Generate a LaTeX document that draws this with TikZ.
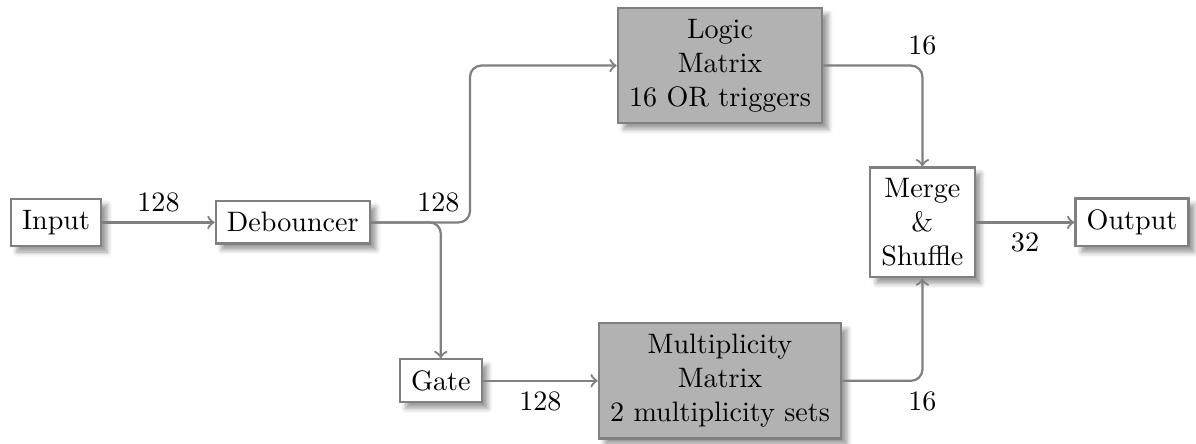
\documentclass[tikz,border=0pt]{standalone}
\usepackage{tikz}
\usetikzlibrary{shadows.blur}

\begin{document}
\begin{tikzpicture}

		\tikzstyle{edge} = [->, thick, draw=gray, rounded corners]
		\tikzstyle{block} = [rectangle, draw=gray, thick, fill=white, inner sep=4pt, align=center, blur shadow]
		\tikzstyle{block_filled} = [block, fill=gray!60]

		\useasboundingbox (0,0) rectangle (14.95,5.55);

		\node[block](In) at (0.70,2.77){Input};
		\node[block](Deb) at (3.66,2.77){Debouncer};
		\node[block](Gate) at (5.51,0.79){Gate};
		\node[block_filled](Logic) at (9.0,4.73){Logic\\Matrix\\16 OR triggers};
		\node[block_filled](Mult) at (9.0,0.79){Multiplicity\\Matrix\\2 multiplicity sets};
		\node[block](Merge) at (11.53,2.77){Merge\\\&\\Shuffle};
		\node[block](Out) at (14.15,2.77){Output};

		\coordinate (Bus) at (5.875,0);

		\draw[edge] (In) -- node[above] {128} (Deb);
		\draw[edge] (Deb.east) -| node[above left] {128} (Bus |- Logic.west) -- (Logic.west);
		\draw[edge] (Deb.east) -| (Gate.north);
		\draw[edge] (Gate) -- node[below] {128} (Mult);
		\draw[edge] (Logic.east) -| node[above] {16} (Merge.north);
		\draw[edge] (Mult.east) -| node[below] {16} (Merge.south);
		\draw[edge] (Merge) -- node[below] {32} (Out);

\end{tikzpicture}
\end{document}
